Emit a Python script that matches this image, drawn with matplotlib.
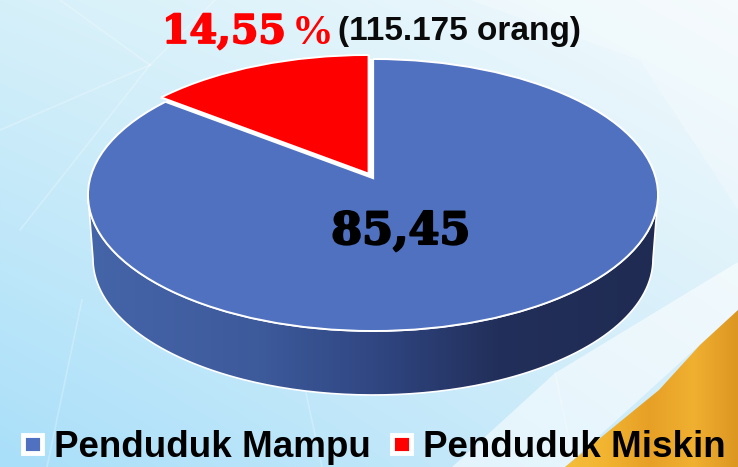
import numpy as np
import matplotlib
matplotlib.use("Agg")
import matplotlib.pyplot as plt
import matplotlib.patheffects as pe
from matplotlib.patches import Ellipse, Patch, PathPatch, Polygon
from matplotlib.path import Path
from matplotlib.colors import LinearSegmentedColormap, to_rgb

# Data
categories = ["Penduduk Miskin", "Penduduk Mampu"]
values = [14.55, 85.45]
colors = ["#ff0000", "#4f71c0"]
legend_order = [1, 0]
value_label = "85,45"
top_value = "14,55"
top_note = "(115.175 orang)"

W, H = 738, 467
fig = plt.figure(figsize=(W / 100, H / 100), dpi=100)

# ---------- background ----------
bg = fig.add_axes([0, 0, 1, 1])
bg.set_xlim(0, W)
bg.set_ylim(H, 0)
bg.axis("off")
tl, tr, bl, br = [np.array(to_rgb(c)) for c in ("#d6f0f9", "#f3fafd", "#a9dff9", "#d2edf9")]
u, v = np.meshgrid(np.linspace(0, 1, W), np.linspace(0, 1, H))
u, v = u[..., None], v[..., None]
img = (1 - v) * ((1 - u) * tl + u * tr) + v * ((1 - u) * bl + u * br)
bg.imshow(img, extent=(0, W, H, 0), aspect="auto", zorder=0)
bg.set_xlim(0, W)
bg.set_ylim(H, 0)

# faint rays and light panels
bg.add_patch(Polygon([(470, 0), (738, 0), (738, 210), (640, 60)], fc="white", ec="none", alpha=0.25, zorder=1))
bg.add_patch(Polygon([(452, 467), (555, 373), (738, 262), (738, 310), (565, 467)],
                     fc="white", ec="none", alpha=0.55, zorder=1))
for seg in [((47, 467), (82, 300)), ((306, 393), (322, 467)), ((150, 65), (0, 130)),
            ((150, 65), (60, 0)), ((150, 65), (20, 230)), ((150, 65), (215, 0)),
            ((555, 373), (575, 467))]:
    bg.plot(*zip(*seg), color="white", lw=1.2, alpha=0.25, zorder=1)

# orange corner
orange_cmap = LinearSegmentedColormap.from_list(
    "o", ["#f5bf3c", "#f2b431", "#e6a026", "#f0b030", "#dc9622"])
im = bg.imshow(np.linspace(0, 1, 256)[None, :], extent=(560, W, H, 305), cmap=orange_cmap,
               aspect="auto", zorder=1.5)
clip = PathPatch(Path([(738, 310), (700, 345), (659, 390), (610, 430), (565, 467), (738, 467), (738, 310)]),
                 transform=bg.transData, fc="none", ec="none")
bg.add_patch(clip)
im.set_clip_path(clip)
bg.set_xlim(0, W)
bg.set_ylim(H, 0)

# ---------- pie geometry in pixels ----------
cx, cy, rx, ry = 373, 195, 285, 136
depth = 64
th = np.linspace(np.pi, 0, 200)
upper = np.c_[cx + rx * np.cos(th), cy + ry * np.sin(th)]
lower = np.c_[cx + (rx - 5) * np.cos(th), cy + depth + ry * np.sin(th)]
side_xy = np.r_[upper, lower[::-1], upper[:1]]

# side wall with horizontal shading
side_cmap = LinearSegmentedColormap.from_list(
    "s", [(0, "#4565a9"), (0.3, "#3d5a9b"), (0.52, "#2f4580"), (0.72, "#222f5a"), (1, "#1f2b52")])
sim = bg.imshow(np.linspace(0, 1, 256)[None, :], extent=(cx - rx, cx + rx, cy + depth + ry, cy - 5),
                cmap=side_cmap, aspect="auto", zorder=2)
side_patch = PathPatch(Path(side_xy), transform=bg.transData, fc="none", ec="white", lw=1.2, zorder=2.1)
bg.add_patch(side_patch)
sim.set_clip_path(side_patch)
bg.set_xlim(0, W)
bg.set_ylim(H, 0)

# ---------- pie: unit circle stretched through the axes limits ----------
ax = fig.add_axes([0, 0, 1, 1], facecolor="none")
apex_y = (cy - 178) / ry
wedges, _ = ax.pie(values, colors=colors, startangle=90, radius=3, center=(0, apex_y),
                   explode=[0.034, 0], wedgeprops=dict(edgecolor="white", linewidth=1.6),
                   frame=False)
ax.set_aspect("auto")
ax.set_xlim((0 - cx) / rx, (W - cx) / rx)
ax.set_ylim((cy - H) / ry, cy / ry)
ax.axis("off")

red, blue = wedges
blue_clip = Ellipse((0, 0), 2, 2, transform=ax.transData, fc="none", ec="none")
red_clip = Ellipse((-5 / rx, 4 / ry), 2, 2, transform=ax.transData, fc="none", ec="none")
ax.add_patch(blue_clip)
ax.add_patch(red_clip)
blue.set_clip_on(True)
red.set_clip_on(True)
blue.set_clip_path(blue_clip)
red.set_clip_path(red_clip)
blue.set_zorder(3)
red.set_zorder(5)
ax.add_patch(Ellipse((0, 0), 2, 2, fc="white", ec="none", zorder=2.5))
blue_outline = Ellipse((0, 0), 2, 2, fc="none", ec="white", lw=1.4, zorder=4)
red_outline = Ellipse((-5 / rx, 4 / ry), 2, 2, fc="none", ec="white", lw=1.4, zorder=6)
ax.add_patch(blue_outline)
ax.add_patch(red_outline)
red_outline.set_clip_path(red)
blue_outline.set_clip_path(blue)

# ---------- text ----------
bg2 = fig.add_axes([0, 0, 1, 1], facecolor="none")
bg2.set_xlim(0, W)
bg2.set_ylim(H, 0)
bg2.axis("off")
heavy_red = [pe.withStroke(linewidth=1.3, foreground="#ff0000")]
heavy_black = [pe.withStroke(linewidth=1.5, foreground="black")]
bg2.text(162, 43, top_value, color="#ff0000", family="DejaVu Serif", weight="bold", fontsize=28.5,
         va="baseline", path_effects=heavy_red)
bg2.text(292, 44, "%", color="#ff0000", family="Liberation Serif", weight="bold", fontsize=30, va="baseline")
bg2.text(338, 40, top_note, color="#0a0a0a", family="Liberation Sans", weight="bold", fontsize=24, va="baseline")
bg2.text(401, 244, value_label, color="black", family="DejaVu Serif", weight="bold", fontsize=32,
         ha="center", va="baseline", path_effects=heavy_black)

handles = [Patch(facecolor=colors[i], edgecolor="white", linewidth=3.5) for i in legend_order]
labels = [categories[i] for i in legend_order]
bg2.legend(handles, labels, loc="lower left", bbox_to_anchor=(23 / W, 1 - 465 / H), ncol=2, frameon=False,
           prop=dict(family="Liberation Sans", weight="bold", size=26.5),
           handlelength=0.52, handleheight=0.36, handletextpad=0.32, columnspacing=0.58,
           borderpad=0, borderaxespad=0, labelcolor="black")

fig.savefig("out.png", dpi=100)
